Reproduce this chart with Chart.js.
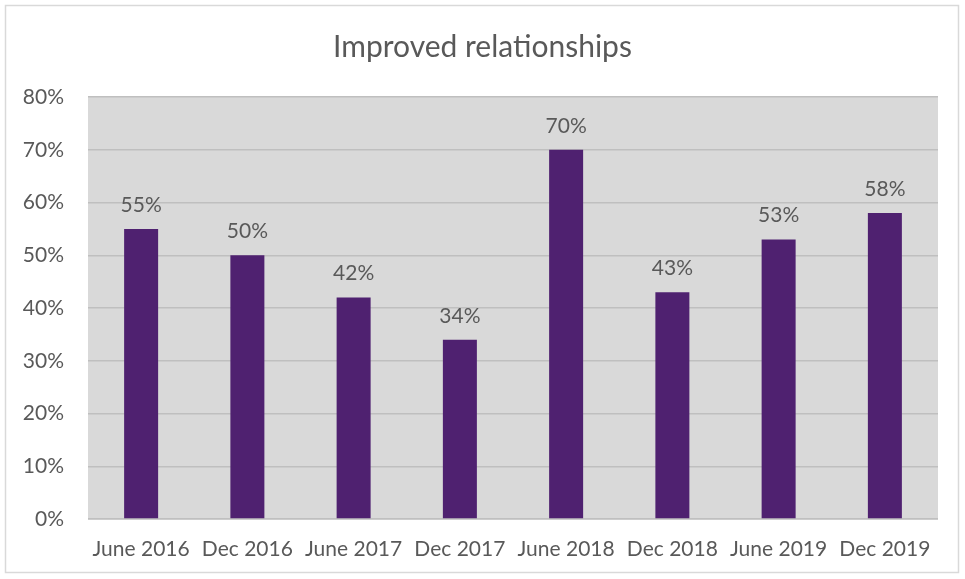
<!DOCTYPE html>
<html>
<head>
<meta charset="utf-8">
<script src="https://cdn.jsdelivr.net/npm/chart.js@4"></script>
<style>
  html, body { margin: 0; padding: 0; background: #fff; }
  #wrap { width: 965px; height: 579px; }
</style>
</head>
<body>
<div id="wrap"><canvas id="chart" width="965" height="579"></canvas></div>
<script>
// Survey waves and share reporting improved relationships
const periods = ['June 2016', 'Dec 2016', 'June 2017', 'Dec 2017', 'June 2018', 'Dec 2018', 'June 2019', 'Dec 2019'];
const improved = [55, 50, 42, 34, 70, 43, 53, 58];
const yTicks = [0, 10, 20, 30, 40, 50, 60, 70, 80];

const textColor = '#595959';
const fontFamily = 'Lato, "Open Sans", sans-serif';

// Grey plot background plus outer frame
const backdrop = {
    id: 'backdrop',
    beforeDraw(chart) {
        const { ctx, chartArea: a } = chart;
        ctx.save();
        ctx.fillStyle = '#ffffff';
        ctx.fillRect(0, 0, chart.width, chart.height);
        ctx.strokeStyle = '#d9d9d9';
        ctx.lineWidth = 1.5;
        ctx.strokeRect(5.5, 5.5, chart.width - 12, chart.height - 12);
        ctx.fillStyle = '#d9d9d9';
        ctx.fillRect(a.left, a.top, a.right - a.left, a.bottom - a.top + 1);
        ctx.restore();
    }
};

// Value labels above each bar
const valueLabels = {
    id: 'valueLabels',
    afterDatasetsDraw(chart) {
        const { ctx } = chart;
        const meta = chart.getDatasetMeta(0);
        ctx.save();
        ctx.fillStyle = textColor;
        ctx.font = '21px ' + fontFamily;
        ctx.textAlign = 'center';
        ctx.textBaseline = 'alphabetic';
        meta.data.forEach((bar, i) => {
            ctx.fillText(improved[i] + '%', bar.x, bar.y - 17);
        });
        ctx.restore();
    }
};

new Chart(document.getElementById('chart'), {
    type: 'bar',
    data: {
        labels: periods,
        datasets: [{
            data: improved,
            backgroundColor: '#4f2170',
            barPercentage: 0.32,
            categoryPercentage: 1
        }]
    },
    options: {
        responsive: false,
        animation: false,
        layout: { padding: 0 },
        plugins: {
            legend: { display: false },
            tooltip: { enabled: false },
            title: {
                display: true,
                text: 'Improved relationships',
                color: textColor,
                font: { family: fontFamily, size: 30, weight: 'normal' },
                padding: { top: 29, bottom: 32 }
            }
        },
        scales: {
            y: {
                min: 0,
                max: 80,
                afterBuildTicks(axis) {
                    axis.ticks = yTicks.map(v => ({ value: v }));
                },
                afterFit(axis) { axis.width = 88; },
                ticks: {
                    color: textColor,
                    font: { family: fontFamily, size: 21 },
                    padding: 24,
                    callback: v => v + '%'
                },
                grid: { color: '#bfbfbf', lineWidth: 1.5, drawTicks: false },
                border: { display: false }
            },
            // empty right-hand gutter so the title stays centred on the canvas
            gutter: {
                type: 'linear',
                position: 'right',
                min: 0,
                max: 80,
                afterFit(axis) { axis.width = 27; },
                ticks: { display: false },
                grid: { display: false, drawTicks: false },
                border: { display: false }
            },
            x: {
                afterFit(axis) { axis.height = 60; },
                ticks: {
                    color: textColor,
                    font: { family: fontFamily, size: 21 },
                    padding: 18,
                    maxRotation: 0,
                    autoSkip: false
                },
                grid: { display: false, drawTicks: false },
                border: { display: false }
            }
        }
    },
    plugins: [backdrop, valueLabels]
});
</script>
</body>
</html>
